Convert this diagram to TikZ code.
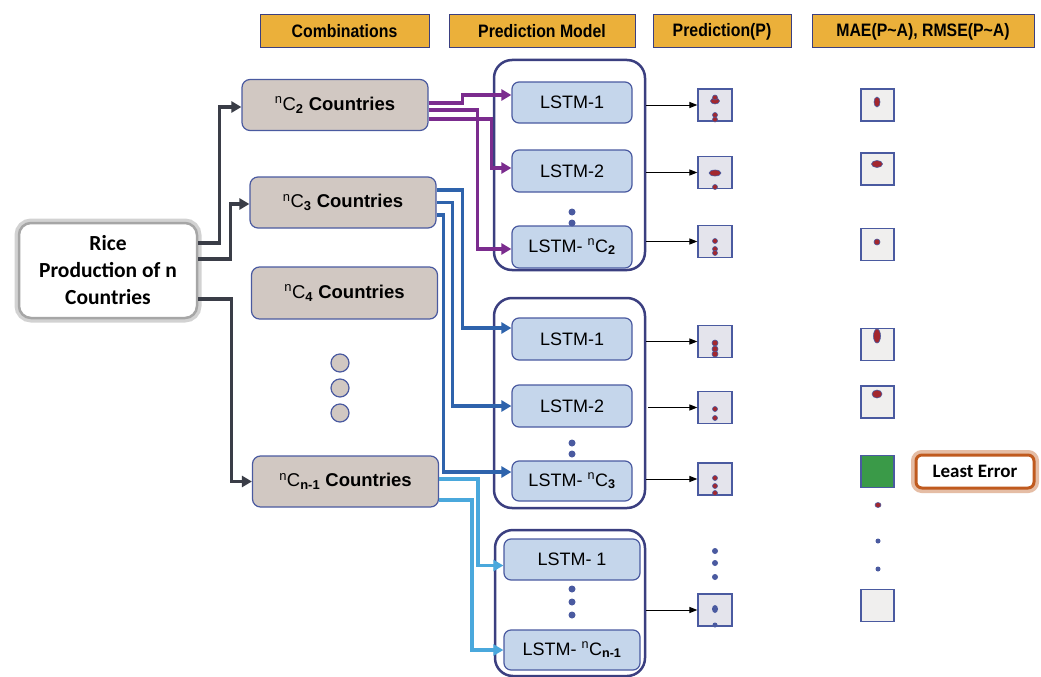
\documentclass[tikz,border=0pt]{standalone}
\usepackage{fontspec}
\setmainfont{Liberation Sans}
\newfontfamily\calfont{Carlito}
\usetikzlibrary{arrows.meta}
\definecolor{hdrfill}{HTML}{EBB03A}
\definecolor{navy}{HTML}{3B3F80}
\definecolor{edgeblue}{HTML}{4A5AA0}
\definecolor{combofill}{HTML}{D1C8C2}
\definecolor{lstmfill}{HTML}{C5D6EB}
\definecolor{purpline}{HTML}{7B2C8E}
\definecolor{blueline}{HTML}{2E63AC}
\definecolor{lblueline}{HTML}{4AA8DC}
\definecolor{darkline}{HTML}{3A3D47}
\definecolor{predfill}{HTML}{E4E4EC}
\definecolor{maefill}{HTML}{F0EFEE}
\definecolor{bestfill}{HTML}{3A9A48}
\definecolor{glow}{HTML}{C05A1E}
\definecolor{dotred}{HTML}{A3272E}
\newcommand{\cmb}[1]{\textsuperscript{n}C\textsubscript{\textbf{#1}}}
\newcommand{\narrow}[1]{\scalebox{0.88}[1]{#1}}

\begin{document}
\begin{tikzpicture}[x=1pt,y=-1pt]
\tikzstyle{every node}+=[inner sep=0pt]
\tikzstyle{hdr}=[draw=navy, line width=1pt, fill=hdrfill, minimum height=33pt, font=\fontsize{18}{20}\selectfont\bfseries]
\tikzstyle{rice}=[draw=gray!70, line width=2.5pt, fill=white, rounded corners=12pt, align=center,
  minimum width=178pt, minimum height=95pt, font=\calfont\fontsize{21.5}{27}\selectfont\bfseries,
  preaction={draw=gray, line width=9pt, opacity=0.35}]
\tikzstyle{combo}=[draw=edgeblue, line width=1.2pt, fill=combofill, rounded corners=8pt, minimum width=186pt, minimum height=51pt, font=\fontsize{18.5}{20}\selectfont]
\tikzstyle{more}=[circle, draw=edgeblue, line width=1.2pt, fill=combofill, minimum size=18pt]
\tikzstyle{grp}=[draw=navy, line width=2.5pt, rounded corners=18pt, minimum width=151pt]
\tikzstyle{lstm}=[draw=edgeblue, line width=1.2pt, fill=lstmfill, rounded corners=7pt, minimum width=120pt, minimum height=42pt, font=\fontsize{18}{20}\selectfont]
\tikzstyle{predbox}=[draw=edgeblue, line width=1.2pt, fill=predfill, minimum width=34pt, minimum height=32pt]
\tikzstyle{maebox}=[draw=edgeblue, line width=1.2pt, fill=maefill, minimum width=33pt, minimum height=32pt]
\tikzstyle{least}=[draw=glow, line width=3pt, fill=white, rounded corners=6pt, minimum width=118pt, minimum height=33pt,
  font=\calfont\fontsize{19}{21}\selectfont\bfseries, preaction={draw=glow, line width=10pt, opacity=0.4}]
\tikzstyle{dark}=[draw=darkline, line width=3.5pt, -{Triangle[length=10pt,width=11pt]}]
\tikzstyle{purp}=[draw=purpline, line width=3.5pt, -{Triangle[length=10pt,width=11pt]}]
\tikzstyle{blu}=[draw=blueline, line width=3.5pt, -{Triangle[length=10pt,width=11pt]}]
\tikzstyle{lblu}=[draw=lblueline, line width=3.5pt, -{Triangle[length=10pt,width=11pt]}]
\tikzstyle{blk}=[draw=black, line width=1pt, -{Triangle[length=8pt,width=6pt]}]
\tikzstyle{bdot}=[fill=edgeblue]
\tikzstyle{rdot}=[fill=dotred, draw=edgeblue, line width=0.6pt]
\useasboundingbox (0,0) rectangle (1041,677);
\fill [white] (0,0) rectangle (1041,677);
\node [hdr, minimum width=169pt] (hcomb) at (344.5,31.5) {\narrow{Combinations}};
\node [hdr, minimum width=186pt] (hmodel) at (542,31.5) {\narrow{Prediction Model}};
\node [hdr, minimum width=138pt] (hpred) at (722,31.5) {\narrow{Prediction(P)}};
\node [hdr, minimum width=222pt] (hmae) at (923,31.5) {\narrow{MAE(P\textasciitilde A), RMSE(P\textasciitilde A)}};
\node [rice] (rice) at (108,270.5) {Rice\\Production of n\\Countries};
\node [combo] (nctwo) at (335,105) {\cmb{2} \textbf{Countries}};
\node [combo] (ncthree) at (343,202.5) {\cmb{3} \textbf{Countries}};
\node [combo, minimum height=52pt] (ncfour) at (344.5,293) {\cmb{4} \textbf{Countries}};
\node [more] (moreA) at (340,363) {};
\node [more] (moreB) at (340,388) {};
\node [more] (moreC) at (340,413) {};
\node [combo] (nclast) at (345.5,481.5) {\cmb{n-1} \textbf{Countries}};
\node [grp, minimum height=210pt] (grpA) at (569.5,165) {};
\node [grp, minimum height=210pt] (grpB) at (569.5,403) {};
\node [grp, minimum width=150pt, minimum height=146pt] (grpC) at (570,603) {};
\node [lstm, minimum height=41pt] (lstmAa) at (572,102.5) {LSTM-1};
\node [lstm] (lstmAb) at (572,171) {LSTM-2};
\node [lstm] (lstmAc) at (572,247) {LSTM- \cmb{2}};
\node [lstm] (lstmBa) at (572,339) {LSTM-1};
\node [lstm] (lstmBb) at (572,406) {LSTM-2};
\node [lstm, minimum height=40pt] (lstmBc) at (572,481) {LSTM- \cmb{3}};
\node [lstm, minimum width=136pt, minimum height=41pt] (lstmCa) at (572,559.5) {LSTM- 1};
\node [lstm, minimum width=136pt, minimum height=40pt] (lstmCb) at (572,650) {LSTM- \cmb{n-1}};
\fill [bdot] (572,212) circle (3.5pt);
\fill [bdot] (572,223) circle (3.5pt);
\fill [bdot] (572,443) circle (3.5pt);
\fill [bdot] (572,454) circle (3.5pt);
\fill [bdot] (572,589) circle (3.5pt);
\fill [bdot] (572,602) circle (3.5pt);
\fill [bdot] (572,615) circle (3.5pt);
\node [predbox] (predAa) at (715,105) {};
\node [predbox] (predAb) at (715,172.5) {};
\node [predbox] (predAc) at (715,241.5) {};
\node [predbox] (predBa) at (715,341.5) {};
\node [predbox] (predBb) at (715,407.5) {};
\node [predbox] (predBc) at (715,479) {};
\node [predbox] (predCa) at (715,610) {};
\draw [rdot] (715,101) ellipse [x radius=4.5pt, y radius=3pt];
\draw [rdot] (715,97.5) circle (2.5pt);
\draw [rdot] (715,115) circle (2.5pt);
\draw [rdot] (715,119.5) circle (2.5pt);
\draw [rdot] (715,173) ellipse [x radius=6pt, y radius=3pt];
\draw [rdot] (715,187) circle (2.5pt);
\draw [rdot] (715,241) circle (2.5pt);
\draw [rdot] (715,249) circle (2.5pt);
\draw [rdot] (715,253) circle (2.5pt);
\draw [rdot] (715,343) circle (3pt);
\draw [rdot] (715,349) circle (3pt);
\draw [rdot] (715,354) circle (3pt);
\draw [rdot] (715,409) circle (2.5pt);
\draw [rdot] (715,418) circle (2.5pt);
\draw [rdot] (715,478) circle (2.5pt);
\draw [rdot] (715,486) circle (2.5pt);
\draw [rdot] (715,493) circle (2.5pt);
\fill [bdot] (715,609) ellipse [x radius=3pt, y radius=4pt];
\fill [bdot] (715,625) circle (2.5pt);
\fill [bdot] (715,551) circle (3pt);
\fill [bdot] (715,563) circle (3pt);
\fill [bdot] (715,577) circle (3pt);
\node [maebox] (maeA) at (877.5,105) {};
\node [maebox] (maeB) at (877.5,169) {};
\node [maebox] (maeC) at (877.5,244.5) {};
\node [maebox] (maeD) at (877.5,344.5) {};
\node [maebox] (maeE) at (877.5,402) {};
\node [maebox, fill=bestfill] (maeF) at (877.5,471.5) {};
\node [maebox] (maeG) at (877.5,605.5) {};
\node [least] (least) at (975,471.5) {Least Error};
\draw [rdot] (877,102) ellipse [x radius=3pt, y radius=5pt];
\draw [rdot] (877,164) ellipse [x radius=5.5pt, y radius=3.5pt];
\draw [rdot] (877,242) circle (3pt);
\draw [rdot] (877,336) ellipse [x radius=3.5pt, y radius=7pt];
\draw [rdot] (877,394) ellipse [x radius=5pt, y radius=4pt];
\draw [rdot] (878,505) ellipse [x radius=3pt, y radius=2.5pt];
\fill [bdot] (878,541) circle (2.5pt);
\fill [bdot] (878,569) circle (2.5pt);
\draw [dark] ([yshift=27.5pt]rice.east) -- ++(21,0) |- ([yshift=-2pt]nctwo.west);
\draw [dark] ([yshift=11.5pt]rice.east) -- ++(32,0) |- ([yshift=-1.5pt]ncthree.west);
\draw [dark] ([yshift=-28.5pt]rice.east) -- ++(33,0) |- (nclast.west);
\draw [purp] ([yshift=2pt]nctwo.east) -- ++(34,0) |- ([yshift=7.5pt]lstmAa.west);
\draw [purp] ([yshift=-5pt]nctwo.east) -- ++(49,0) |- ([yshift=-2pt]lstmAc.west);
\draw [purp] ([yshift=-14pt]nctwo.east) -- ++(63,0) |- ([yshift=3pt]lstmAb.west);
\draw [blu] ([yshift=12.5pt]ncthree.east) -- ++(26,0) |- ([yshift=11pt]lstmBa.west);
\draw [blu] (ncthree.east) -- ++(16,0) |- (lstmBb.west);
\draw [blu] ([yshift=-12.5pt]ncthree.east) -- ++(7,0) |- ([yshift=9pt]lstmBc.west);
\draw [lblu] ([yshift=2.5pt]nclast.east) -- ++(39,0) |- ([yshift=-6pt]lstmCa.west);
\draw [lblu] ([yshift=-18.5pt]nclast.east) -- ++(33,0) |- (lstmCb.west);
\draw [blk] (grpA.east |- predAa.west) -- (predAa.west);
\draw [blk] (grpA.east |- predAb.west) -- (predAb.west);
\draw [blk] (grpA.east |- predAc.west) -- (predAc.west);
\draw [blk] (grpB.east |- predBa.west) -- (predBa.west);
\draw [blk] ([xshift=2pt]grpB.east |- predBb.west) -- (predBb.west);
\draw [blk] (grpB.east |- predBc.west) -- (predBc.west);
\draw [blk] (grpC.east |- predCa.west) -- (predCa.west);
\end{tikzpicture}
\end{document}
